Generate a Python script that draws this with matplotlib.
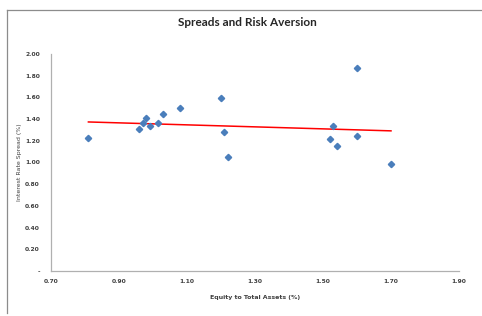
import numpy as np
import matplotlib.pyplot as plt
from matplotlib.lines import Line2D

# ── data ──────────────────────────────────────────────
equity = [0.81, 0.96, 0.97, 0.98, 0.99, 1.015, 1.03, 1.08,
          1.20, 1.21, 1.22, 1.52, 1.53, 1.54, 1.60, 1.60, 1.70]
spread = [1.23, 1.31, 1.36, 1.41, 1.34, 1.36, 1.45, 1.50,
          1.59, 1.28, 1.05, 1.22, 1.34, 1.15, 1.87, 1.24, 0.99]

x_ticks = [0.70, 0.90, 1.10, 1.30, 1.50, 1.70, 1.90]
y_ticks = [0.0, 0.2, 0.4, 0.6, 0.8, 1.0, 1.2, 1.4, 1.6, 1.8, 2.0]

plt.rcParams["font.family"] = ["DejaVu Sans"]

fig = plt.figure(figsize=(4.82, 3.16), dpi=100)
# chart-area border: only left and top edges are inside the crop
border = dict(color="#8c8c8c", linewidth=0.9, transform=fig.transFigure)
fig.add_artist(Line2D([7 / 482, 7 / 482], [3 / 316, 1 - 10 / 316], **border))
fig.add_artist(Line2D([7 / 482, 1.0], [1 - 10 / 316, 1 - 10 / 316], **border))

ax = fig.add_axes([51 / 482, 45 / 316, 408 / 482, 217 / 316])
ax.plot(equity, spread, "D", color="#4a7ebb", markersize=3.2, zorder=3)

# linear trend line over the data range
coef = np.polyfit(equity, spread, 1)
xs = np.array([min(equity), max(equity)])
ax.plot(xs, np.polyval(coef, xs), color="#ff0000", linewidth=1.1, zorder=2)

ax.set_xlim(0.70, 1.90)
ax.set_ylim(0, 2.0)
ax.set_xticks(x_ticks)
ax.set_yticks(y_ticks)
ax.set_xticklabels([f"{v:.2f}" for v in x_ticks])
ax.set_yticklabels(["-"] + [f"{v:.2f}" for v in y_ticks[1:]])
ax.tick_params(length=0, labelsize=4.3, colors="#404040")
ax.tick_params(axis="x", pad=5.5)
ax.tick_params(axis="y", pad=8)
for lab in ax.get_xticklabels() + ax.get_yticklabels():
    lab.set_fontweight("bold")
for s in ("top", "right"):
    ax.spines[s].set_visible(False)
for s in ("left", "bottom"):
    ax.spines[s].set_color("#b0b0b0")
    ax.spines[s].set_linewidth(0.9)

ax.set_xlabel("Equity to Total Assets (%)", fontsize=4.5, fontweight="bold",
              color="#404040", labelpad=8)
ax.set_ylabel("Interest Rate Spread (%)", fontsize=4.5, color="#404040",
              labelpad=2)
fig.text(247 / 482, 1 - 23 / 316, "Spreads and Risk Aversion", fontsize=8.5,
         fontweight="bold", ha="center", va="center", color="#262626",
         family=["Lato", "DejaVu Sans"])

fig.savefig("out.png", dpi=100)
